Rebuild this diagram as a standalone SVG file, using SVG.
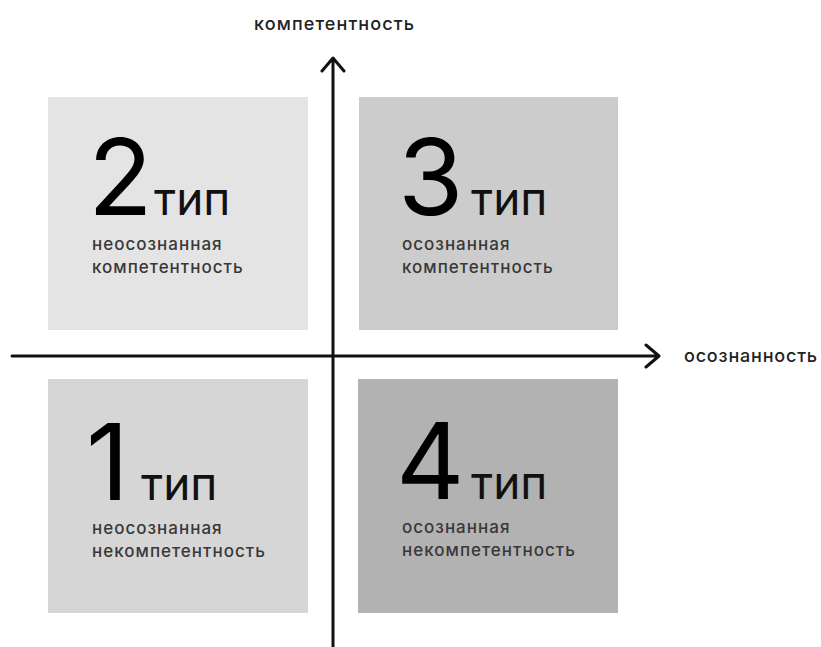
<svg xmlns="http://www.w3.org/2000/svg" width="821" height="647" viewBox="0 0 821 647">
<style>
.num{font-family:Inter,"Liberation Sans",sans-serif;font-size:106px;fill:#000;font-weight:400}
.tip{font-family:Inter,"Liberation Sans",sans-serif;font-size:46px;fill:#111}
.sub{font-family:Inter,"Liberation Sans",sans-serif;font-size:17px;fill:#383838;font-weight:500;letter-spacing:1px}
.ax{font-family:Inter,"Liberation Sans",sans-serif;font-size:18px;fill:#222;font-weight:500;letter-spacing:1.1px}
.axis{stroke:#111;stroke-width:3;fill:none;stroke-linecap:round;stroke-linejoin:round}
</style>
<rect width="821" height="647" fill="#fff"/>
<g id="type2">
<rect x="48" y="97" width="260" height="233" fill="#e4e4e4"/>
<text class="num" x="88" y="215">2</text>
<text class="tip" x="154" y="215">тип</text>
<text class="sub" x="92" y="250">неосознанная</text>
<text class="sub" x="92" y="273">компетентность</text>
</g>
<g id="type3">
<rect x="359" y="97" width="259" height="233" fill="#cccccc"/>
<text class="num" x="398" y="215">3</text>
<text class="tip" x="471" y="215">тип</text>
<text class="sub" x="402" y="250">осознанная</text>
<text class="sub" x="402" y="273">компетентность</text>
</g>
<g id="type1">
<rect x="48" y="379" width="260" height="234" fill="#d6d6d6"/>
<text class="num" x="86" y="500">1</text>
<text class="tip" x="141" y="500">тип</text>
<text class="sub" x="92" y="534">неосознанная</text>
<text class="sub" x="92" y="557">некомпетентность</text>
</g>
<g id="type4">
<rect x="358" y="379" width="260" height="234" fill="#b2b2b2"/>
<text class="num" x="396" y="499">4</text>
<text class="tip" x="471" y="499">тип</text>
<text class="sub" x="402" y="533">осознанная</text>
<text class="sub" x="402" y="556">некомпетентность</text>
</g>
<g id="connectors">
<path class="axis" d="M12 356 H658 M646 345 L659 356 L646 367"/>
<path class="axis" d="M333 647 V59 M322 71 L333 58 L344 71"/>
</g>
<g id="labels">
<text class="ax" x="254" y="30">компетентность</text>
<text class="ax" x="684" y="362" style="letter-spacing:0.8px">осознанность</text>
</g>
</svg>
